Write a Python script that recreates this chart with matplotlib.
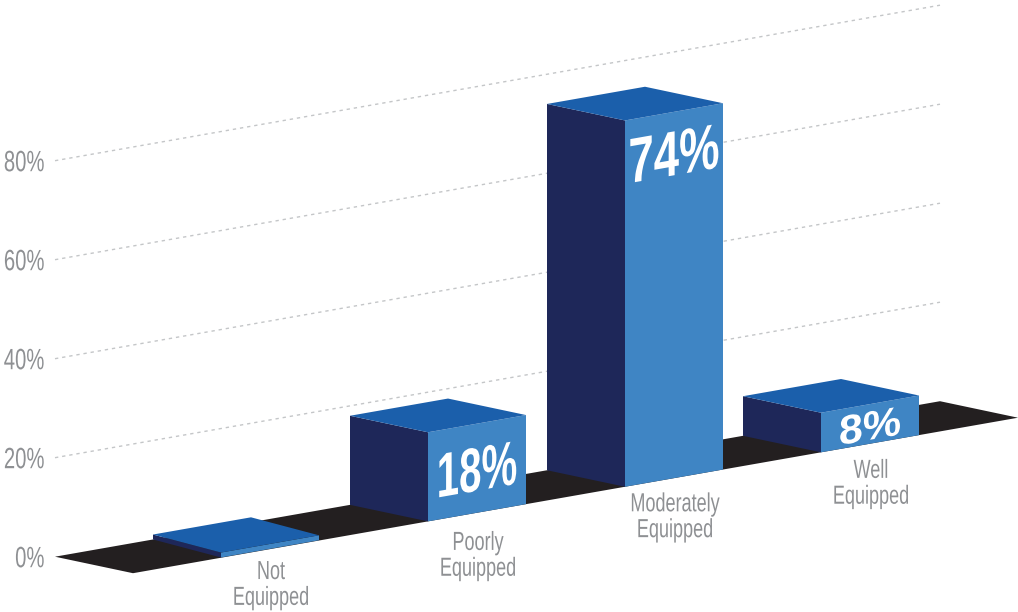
import matplotlib
matplotlib.use('Agg')
import matplotlib.pyplot as plt
import matplotlib.patheffects as pe
from matplotlib.transforms import Affine2D

# Survey results
categories = ['Not\nEquipped', 'Poorly\nEquipped', 'Moderately\nEquipped', 'Well\nEquipped']
values = [1, 18, 74, 8]
value_labels = ['', '18%', '74%', '8%']
grid_values = [20, 40, 60, 80]
tick_values = [0, 20, 40, 60, 80]
tick_labels = ['0%', '20%', '40%', '60%', '80%']

# Oblique projection: distance along the floor, depth into the floor, value
ORIGIN_X, ORIGIN_Y = 55, 556.7
FLOOR_SLOPE = 0.1757
VALUE_SCALE = 4.95
FLOOR_LEN = 885
FLOOR_DEPTH = (78, 16.5)

# Bar layout along the floor
bar_starts = [98, 295, 492, 688]
bar_width = 98
bar_depth_x = [68, 78, 78, 78]
bar_depth_y = [18, 16.5, 16.5, 16.5]
label_levels = [0, 4.5, 61.2, 0.8]
label_sizes = [0, 29, 32.8, 31]
label_stretch = [1, 1.55, 1.4, 0.95]
category_offsets = [56, 63, 59, 60]

GREY = '#8E9093'
NAVY = '#1E2759'
TOP_BLUE = '#1B5FAB'
FACE_BLUE = '#3F85C4'
FLOOR = '#231F20'
FONT = 'Liberation Sans'


class Tall(pe.AbstractPathEffect):
    """Stretch glyphs upward from the baseline, optionally shearing along the floor."""

    def __init__(self, stretch, shear=0):
        super().__init__()
        self.stretch = stretch
        self.shear = shear

    def draw_path(self, renderer, gc, tpath, affine, rgbFace=None):
        cx = tpath.get_extents().intervalx.mean()
        warp = (Affine2D().translate(-cx, 0).scale(1, self.stretch)
                .skew_deg(0, self.shear).translate(cx, 0))
        renderer.draw_path(gc, tpath, warp + affine, rgbFace)


def project(along, value=0, dx=0, dy=0):
    x = ORIGIN_X + along + dx
    y = ORIGIN_Y - FLOOR_SLOPE * along + dy - VALUE_SCALE * value
    return x, y


fig = plt.figure(figsize=(10.18, 6.12), dpi=100)
ax = fig.add_axes([0, 0, 1, 1])
ax.set_xlim(0, 1018)
ax.set_ylim(612, 0)
ax.axis('off')

# Floor
floor_pts = [project(0), project(FLOOR_LEN),
             project(FLOOR_LEN, dx=FLOOR_DEPTH[0], dy=FLOOR_DEPTH[1]),
             project(0, dx=FLOOR_DEPTH[0], dy=FLOOR_DEPTH[1])]
ax.fill(*zip(*floor_pts), color=FLOOR, lw=0, zorder=2)

# Gridlines and axis labels
for g in grid_values:
    x0, y0 = project(0, g)
    x1, y1 = project(FLOOR_LEN, g)
    ax.plot([x0, x1], [y0, y1], color='#C4C6C8', lw=1, ls=(0, (2.4, 2.8)), zorder=1)

for t, lab in zip(tick_values, tick_labels):
    x0, y0 = project(0, t)
    txt = ax.text(x0 - 10.5, y0 + 10.5, lab, ha='right', va='baseline', fontsize=14.6,
                  color=GREY, family=FONT)
    txt.set_path_effects([Tall(1.45)])

# Bars
for i, (start, val) in enumerate(zip(bar_starts, values)):
    ddx, ddy = bar_depth_x[i], bar_depth_y[i]
    end = start + bar_width

    left = [project(start, 0), project(start, val),
            project(start, val, ddx, ddy), project(start, 0, ddx, ddy)]
    front = [project(start, 0, ddx, ddy), project(start, val, ddx, ddy),
             project(end, val, ddx, ddy), project(end, 0, ddx, ddy)]
    top = [project(start, val), project(end, val),
           project(end, val, ddx, ddy), project(start, val, ddx, ddy)]

    ax.fill(*zip(*left), color=NAVY, lw=0, zorder=3)
    ax.fill(*zip(*front), color=FACE_BLUE, lw=0, zorder=3)
    ax.fill(*zip(*top), color=TOP_BLUE, lw=0, zorder=4)

    mid = start + bar_width / 2
    if value_labels[i]:
        lx, ly = project(mid, label_levels[i], ddx, ddy)
        txt = ax.text(lx, ly, value_labels[i], ha='center', va='baseline',
                      fontsize=label_sizes[i], fontweight='bold',
                      color='white', family=FONT, zorder=5)
        txt.set_path_effects([Tall(label_stretch[i], shear=10)])

    # Category name under the front face
    bx, by = project(mid, 0, ddx, ddy)
    txt = ax.text(bx + 1, by + category_offsets[i], categories[i], ha='center', va='baseline',
                  fontsize=13, color=GREY, family=FONT, linespacing=1.68, zorder=5)
    txt.set_path_effects([Tall(1.45)])

fig.savefig('out.png', dpi=100)
